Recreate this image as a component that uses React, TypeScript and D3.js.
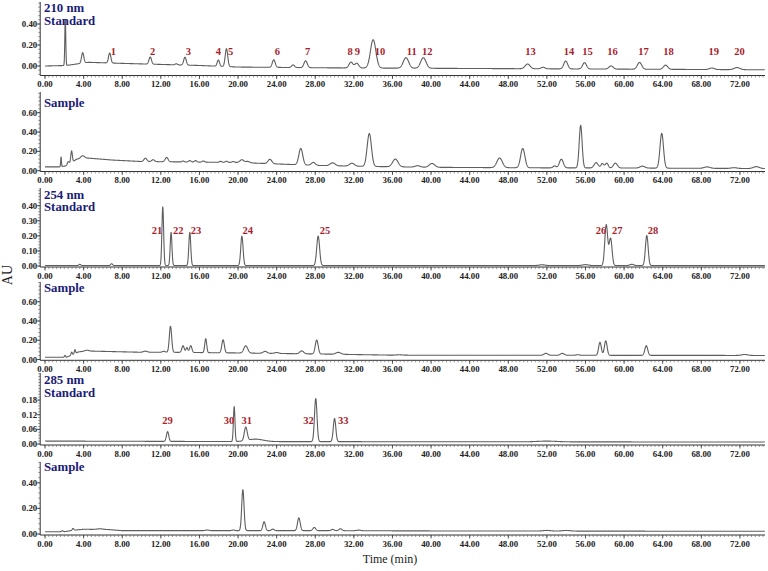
import React from 'react';
import * as d3 from 'd3';

// ---------- data ----------
const TIME_TICKS = [0, 4, 8, 12, 16, 20, 24, 28, 32, 36, 40, 44, 48, 52, 56, 60, 64, 68, 72];

const P1_TICKS = [0, 0.2, 0.4];
const P2_TICKS = [0, 0.2, 0.4, 0.6];
const P3_TICKS = [0, 0.1, 0.2, 0.3, 0.4];
const P4_TICKS = [0, 0.2, 0.4, 0.6];
const P5_TICKS = [0, 0.06, 0.12, 0.18];
const P6_TICKS = [0, 0.2, 0.4];

// baseline knots [time, AU]
const P1_BASE: [number, number][] = [[0, 0], [2.2, 0.005], [4.5, 0.035], [8, 0.025], [12, 0.015], [16, 0.005], [20, -0.01], [30, -0.018], [40, -0.022], [50, -0.026], [60, -0.03], [74.6, -0.036]];
const P2_BASE: [number, number][] = [[0, 0.04], [1.5, 0.04], [2.2, 0.05], [3.3, 0.12], [4.5, 0.13], [7, 0.11], [10, 0.095], [15, 0.09], [20, 0.085], [24, 0.07], [28, 0.055], [33, 0.045], [40, 0.035], [50, 0.03], [60, 0.028], [74.6, 0.022]];
const P3_BASE: [number, number][] = [[0, 0.003], [74.6, 0.003]];
const P4_BASE: [number, number][] = [[0, 0.023], [2.2, 0.023], [2.6, 0.04], [3.5, 0.08], [4.5, 0.088], [10, 0.075], [13, 0.075], [20, 0.068], [30, 0.055], [36, 0.045], [74.6, 0.042]];
const P5_BASE: [number, number][] = [[0, 0.012], [20, 0.01], [74.6, 0.008]];
const P6_BASE: [number, number][] = [[0, 0.018], [2, 0.018], [3, 0.03], [4, 0.037], [6.5, 0.035], [8, 0.026], [30, 0.026], [40, 0.024], [74.6, 0.021]];

// peaks [retention time, height above baseline, width]
const P1_PEAKS: [number, number, number][] = [
  [2.1, 0.44, 0.05], [3.9, 0.1, 0.12], [6.7, 0.095, 0.12], [10.9, 0.068, 0.13], [13.6, 0.01, 0.12],
  [14.5, 0.075, 0.13], [17.96, 0.06, 0.12], [18.8, 0.17, 0.13], [23.7, 0.072, 0.15], [25.7, 0.025, 0.15],
  [27.0, 0.065, 0.17], [31.7, 0.055, 0.2], [32.3, 0.045, 0.2], [34.0, 0.27, 0.28], [37.4, 0.1, 0.28],
  [39.2, 0.1, 0.28], [50.0, 0.045, 0.25], [51.6, 0.015, 0.2], [53.95, 0.075, 0.2], [55.9, 0.06, 0.2],
  [58.65, 0.03, 0.22], [61.6, 0.065, 0.22], [64.3, 0.04, 0.22], [69.1, 0.015, 0.25], [71.7, 0.02, 0.3],
];
const P2_PEAKS: [number, number, number][] = [
  [1.66, 0.1, 0.04], [2.4, 0.03, 0.1], [2.75, 0.12, 0.08], [3.9, 0.03, 0.2], [10.4, 0.035, 0.15],
  [11.2, 0.02, 0.15], [12.6, 0.045, 0.15], [14.3, 0.01, 0.1], [15.0, 0.015, 0.12], [15.6, 0.015, 0.12],
  [16.4, 0.012, 0.12], [18.2, 0.01, 0.12], [18.8, 0.012, 0.12], [19.5, 0.01, 0.12], [20.4, 0.03, 0.2],
  [21.0, 0.015, 0.2], [23.3, 0.045, 0.2], [26.5, 0.17, 0.2], [27.8, 0.03, 0.2], [29.8, 0.03, 0.25],
  [31.8, 0.03, 0.25], [33.6, 0.34, 0.22], [36.3, 0.08, 0.28], [38.6, 0.015, 0.25], [40.1, 0.04, 0.28],
  [47.1, 0.1, 0.28], [49.5, 0.2, 0.22], [52.8, 0.02, 0.15], [53.5, 0.09, 0.2], [55.5, 0.44, 0.15],
  [57.1, 0.055, 0.2], [57.75, 0.045, 0.15], [58.2, 0.05, 0.15], [59.1, 0.05, 0.2], [61.9, 0.02, 0.25],
  [63.9, 0.36, 0.18], [68.6, 0.015, 0.3], [71.4, 0.008, 0.3], [73.7, 0.02, 0.3],
];
const P3_PEAKS: [number, number, number][] = [
  [3.6, 0.008, 0.1], [6.9, 0.012, 0.1], [12.2, 0.39, 0.09], [13.06, 0.22, 0.09], [15.0, 0.22, 0.1],
  [20.4, 0.195, 0.12], [28.3, 0.195, 0.15], [51.5, 0.005, 0.3], [56.0, 0.006, 0.3], [58.15, 0.27, 0.15],
  [58.6, 0.18, 0.15], [60.8, 0.008, 0.2], [62.35, 0.2, 0.14],
];
const P4_PEAKS: [number, number, number][] = [
  [2.07, 0.02, 0.06], [2.76, 0.03, 0.06], [3.1, 0.04, 0.06], [4.3, 0.01, 0.2], [10.4, 0.012, 0.2],
  [12.3, 0.01, 0.15], [13.0, 0.27, 0.12], [14.3, 0.07, 0.12], [14.7, 0.05, 0.1], [15.1, 0.07, 0.12],
  [16.65, 0.145, 0.1], [18.45, 0.135, 0.13], [20.8, 0.075, 0.2], [22.8, 0.02, 0.2], [24.0, 0.01, 0.2],
  [26.6, 0.03, 0.2], [28.15, 0.145, 0.15], [30.4, 0.02, 0.25], [36.7, 0.004, 0.3], [51.9, 0.02, 0.2],
  [53.6, 0.02, 0.2], [55.2, 0.006, 0.2], [57.5, 0.135, 0.14], [58.1, 0.15, 0.14], [62.3, 0.1, 0.15],
  [72.5, 0.01, 0.3],
];
const P5_PEAKS: [number, number, number][] = [
  [12.7, 0.04, 0.12], [19.6, 0.143, 0.08], [20.8, 0.055, 0.15], [21.8, 0.01, 0.8], [28.05, 0.177, 0.13],
  [30.0, 0.095, 0.13], [52, 0.003, 1],
];
const P6_PEAKS: [number, number, number][] = [
  [1.8, 0.008, 0.08], [2.9, 0.015, 0.08], [5.7, 0.005, 0.3], [16.8, 0.005, 0.2], [19.5, 0.005, 0.15],
  [20.5, 0.32, 0.12], [22.7, 0.07, 0.13], [23.6, 0.012, 0.15], [26.3, 0.1, 0.14], [27.9, 0.025, 0.15],
  [29.8, 0.01, 0.15], [30.6, 0.015, 0.15], [32.5, 0.005, 0.2], [52, 0.005, 0.4], [54, 0.005, 0.4],
];

// peak number labels: [text, time position]
const P1_LABELS: [string, number][] = [
  ['1', 7.08], ['2', 11.16], ['3', 14.85], ['4', 17.96], ['5', 19.24], ['6', 24.07], ['7', 27.2],
  ['8', 31.6], ['9', 32.37], ['10', 34.7], ['11', 38.0], ['12', 39.6], ['13', 50.3], ['14', 54.3],
  ['15', 56.2], ['16', 58.8], ['17', 62.0], ['18', 64.6], ['19', 69.3], ['20', 71.95],
];
const P3_LABELS: [string, number][] = [
  ['21', 11.6], ['22', 13.8], ['23', 15.65], ['24', 21.0], ['25', 29.0], ['26', 57.6], ['27', 59.3], ['28', 63.0],
];
const P5_LABELS: [string, number][] = [
  ['29', 12.7], ['30', 19.07], ['31', 20.9], ['32', 27.3], ['33', 30.9],
];

const P1_TITLE = ['210 nm', 'Standard'];
const P3_TITLE = ['254 nm', 'Standard'];
const P5_TITLE = ['285 nm', 'Standard'];
const SAMPLE_TITLE = ['Sample'];

// ---------- layout ----------
const W = 768;
const H = 571;
const X_LEFT = 40.2;
const X_RIGHT = 765;
const T_MIN = -0.5;
const T_MAX = 74.6;

interface PanelDef {
  title: string[];
  ticks: number[];
  base: [number, number][];
  peaks: [number, number, number][];
  labels: [string, number][];
  top: number; zeroY: number; axisY: number; k: number; titleY: number; labelY: number; minor: number;
}

const PANELS: PanelDef[] = [
  { title: P1_TITLE, ticks: P1_TICKS, base: P1_BASE, peaks: P1_PEAKS, labels: P1_LABELS, top: 2, zeroY: 66, axisY: 75.5, k: 105, titleY: 12, labelY: 54.5, minor: 0.04 },
  { title: SAMPLE_TITLE, ticks: P2_TICKS, base: P2_BASE, peaks: P2_PEAKS, labels: [], top: 92, zeroY: 170.7, axisY: 171.5, k: 96.7, titleY: 106.5, labelY: 0, minor: 0.04 },
  { title: P3_TITLE, ticks: P3_TICKS, base: P3_BASE, peaks: P3_PEAKS, labels: P3_LABELS, top: 188, zeroY: 266, axisY: 267, k: 150.7, titleY: 198.5, labelY: 233.5, minor: 0.02 },
  { title: SAMPLE_TITLE, ticks: P4_TICKS, base: P4_BASE, peaks: P4_PEAKS, labels: [], top: 282, zeroY: 359.5, axisY: 360.3, k: 96.3, titleY: 292, labelY: 0, minor: 0.04 },
  { title: P5_TITLE, ticks: P5_TICKS, base: P5_BASE, peaks: P5_PEAKS, labels: P5_LABELS, top: 373, zeroY: 444, axisY: 445, k: 244, titleY: 384, labelY: 423.5, minor: 0.012 },
  { title: SAMPLE_TITLE, ticks: P6_TICKS, base: P6_BASE, peaks: P6_PEAKS, labels: [], top: 462, zeroY: 534, axisY: 535, k: 128, titleY: 471, labelY: 0, minor: 0.04 },
];

const SERIF = '"Liberation Serif", "Times New Roman", serif';
const NAVY = '#1c1c78';
const RED = '#a81e2d';
const TRACE = '#5e5e5e';

const x = d3.scaleLinear().domain([T_MIN, T_MAX]).range([X_LEFT, X_RIGHT]);
const fmt = d3.format('.2f');
const SAMPLE_T = d3.range(0, T_MAX, 0.02);
const X_MINOR = d3.range(0, T_MAX, 0.4);

function Panel({ p }: { p: PanelDef }) {
  const y = d3.scaleLinear().domain([0, 1]).range([p.zeroY, p.zeroY - p.k]);
  const yMin = y.invert(p.axisY);
  const yMax = y.invert(p.top);
  const baseline = d3.scaleLinear().domain(p.base.map(d => d[0])).range(p.base.map(d => d[1])).clamp(true);
  const signal = (t: number) =>
    baseline(t) + d3.sum(p.peaks, ([t0, h, s]) => h * Math.exp(-((t - t0) * (t - t0)) / (2 * s * s)));
  const line = d3.line<number>().x(t => x(t)).y(t => y(Math.max(yMin, Math.min(yMax, signal(t)))));
  const yMinor = d3.range(Math.ceil(yMin / p.minor) * p.minor, yMax, p.minor);
  return (
    <g>
      {/* y axis */}
      <line x1={X_LEFT} x2={X_LEFT} y1={p.top} y2={p.axisY} stroke="#333" strokeWidth={1} />
      {yMinor.map((v, i) => (
        <line key={'ym' + i} x1={X_LEFT - 2} x2={X_LEFT} y1={y(v)} y2={y(v)} stroke="#555" strokeWidth={0.6} />
      ))}
      {p.ticks.map(v => (
        <g key={'yt' + v}>
          <line x1={X_LEFT - 3.5} x2={X_LEFT} y1={y(v)} y2={y(v)} stroke="#333" strokeWidth={0.8} />
          <text x={X_LEFT - 3} y={y(v) + 3} textAnchor="end" fontFamily={SERIF} fontWeight="bold" fontSize={8.8} fill="#222">{fmt(v)}</text>
        </g>
      ))}
      {/* x axis */}
      <line x1={X_LEFT} x2={X_RIGHT} y1={p.axisY} y2={p.axisY} stroke="#333" strokeWidth={1} />
      {X_MINOR.map((t, i) => (
        <line key={'xm' + i} x1={x(t)} x2={x(t)} y1={p.axisY} y2={p.axisY + 2} stroke="#555" strokeWidth={0.6} />
      ))}
      {TIME_TICKS.map(t => (
        <g key={'xt' + t}>
          <line x1={x(t)} x2={x(t)} y1={p.axisY} y2={p.axisY + 3.5} stroke="#333" strokeWidth={0.8} />
          <text x={x(t)} y={p.axisY + 11.5} textAnchor="middle" fontFamily={SERIF} fontWeight="bold" fontSize={8.8} fill="#222">{fmt(t)}</text>
        </g>
      ))}
      {/* trace */}
      <path d={line(SAMPLE_T) || ''} fill="none" stroke={TRACE} strokeWidth={1.1} strokeLinejoin="round" />
      {/* titles */}
      {p.title.map((s, i) => (
        <text key={s} x={44} y={p.titleY + i * 12.5} fontFamily={SERIF} fontWeight="bold" fontSize={12.8} fill={NAVY}>{s}</text>
      ))}
      {/* peak labels */}
      {p.labels.map(([s, t]) => (
        <text key={s} x={x(t)} y={p.labelY} textAnchor="middle" fontFamily={SERIF} fontWeight="bold" fontSize={10.5} fill={RED}>{s}</text>
      ))}
    </g>
  );
}

export default function App() {
  return (
    <svg width={W} height={H} viewBox={`0 0 ${W} ${H}`} style={{ position: 'absolute', left: 0, top: 0, background: '#fff' }}>
      <rect x={0} y={0} width={W} height={H} fill="#fff" />
      {PANELS.map((p, i) => <Panel key={i} p={p} />)}
      <text x={12} y={275} transform="rotate(-90 12 275)" textAnchor="middle" fontFamily={SERIF} fontSize={14} fill="#222">AU</text>
      <text x={390} y={563} textAnchor="middle" fontFamily={SERIF} fontSize={12} fill="#222">Time (min)</text>
    </svg>
  );
}
